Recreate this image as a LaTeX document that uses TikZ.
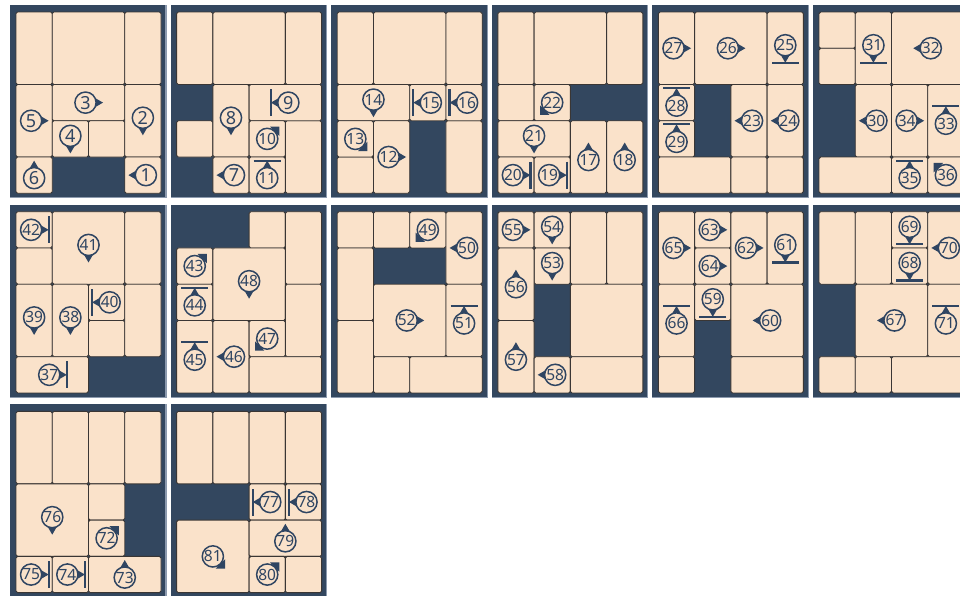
\documentclass[tikz,border=0pt]{standalone}
\usepackage{fontspec}
\setmainfont{Noto Sans}
\definecolor{navy}{RGB}{51,71,95}
\definecolor{peach}{RGB}{250,226,202}
\definecolor{edgec}{RGB}{58,54,52}
\definecolor{rimc}{RGB}{140,154,174}
\definecolor{mkc}{RGB}{47,69,98}
\newcommand\cellsz{36.25}
\tikzset{
  piece/.style={draw=edgec,fill=peach,line width=0.9pt,rounded corners=1.6pt},
  mktext/.style={inner sep=0pt,text=mkc},
  panelbg/.style={fill=navy},
  rimline/.style={draw=rimc,line width=1.2pt}
}
\newcommand\setpanel[2]{%
  \pgfmathsetmacro\PX{10+160.6*#1}\pgfmathsetmacro\PY{5+199.7*#2}%
  \fill[panelbg] (\PX,\PY) rectangle ++(156,192.5);
  \draw[rimline] (\PX+156,\PY) -- (\PX+156,\PY+192.5) -- (\PX,\PY+192.5);
  \pgfmathsetmacro\IX{\PX+6}\pgfmathsetmacro\IY{\PY+7}}
\newcommand\pc[4]{\draw[piece] ({\IX+#1*\cellsz},{\IY+#2*\cellsz}) rectangle ++({#3*\cellsz},{#4*\cellsz});}
% c r w h angle type num ; type 0 = triangle, 1 = triangle+bar, 2 = diagonal corner
\newcommand\mk[7]{%
  \pgfmathsetmacro\mcx{\IX+(#1+#3/2)*\cellsz}\pgfmathsetmacro\mcy{\IY+(#2+#4/2)*\cellsz}%
  \begin{scope}[shift={(\mcx,\mcy)},rotate=#5]
    \ifnum#6=2
      \def\mo{0}%
      \fill[mkc] (17.2,0) -- (10.6,6.6) -- (10.6,-6.6) -- cycle;
    \else
      \def\mo{-3}%
      \fill[mkc] (\mo+17.5,0) -- (\mo+8,5.5) -- (\mo+8,-5.5) -- cycle;
    \fi
    \ifnum#6=1 \draw[mkc,line width=2.2pt] (\mo+17.5,-13.5) -- (\mo+17.5,13.5);\fi
    \draw[mkc,line width=1.5pt,fill=peach] (\mo,0) circle[radius=10.6];
    \node[mktext] (n#7) at (\mo,0) {\ifnum#7>9 \fontsize{15.5}{15.5}\selectfont\else\fontsize{18}{18}\selectfont\fi #7};
  \end{scope}}
\begin{document}
\begin{tikzpicture}[x=1pt,y=-1pt]
\useasboundingbox (0,0) rectangle (960,595);
\clip (0,0) rectangle (960,595);
\fill[white] (0,0) rectangle (960,595);
% ---------- P1
\setpanel{0}{0}
\pc{0}{0}{1}{2}\pc{1}{0}{2}{2}\pc{3}{0}{1}{2}
\pc{0}{2}{1}{2}\pc{1}{2}{2}{1}\pc{1}{3}{1}{1}\pc{2}{3}{1}{1}\pc{3}{2}{1}{2}\pc{0}{4}{1}{1}\pc{3}{4}{1}{1}
\mk{0}{2}{1}{2}{0}{0}{5}
\mk{1}{2}{2}{1}{0}{0}{3}
\mk{1}{3}{1}{1}{270}{0}{4}
\mk{3}{2}{1}{2}{270}{0}{2}
\mk{0}{4}{1}{1}{90}{0}{6}
\mk{3}{4}{1}{1}{180}{0}{1}
% ---------- P2
\setpanel{1}{0}
\pc{0}{0}{1}{2}\pc{1}{0}{2}{2}\pc{3}{0}{1}{2}\pc{0}{3}{1}{1}\pc{3}{3}{1}{2}
\pc{1}{2}{1}{2}\pc{2}{2}{2}{1}\pc{2}{3}{1}{1}\pc{1}{4}{1}{1}\pc{2}{4}{1}{1}
\mk{1}{2}{1}{2}{270}{0}{8}
\mk{2}{2}{2}{1}{180}{1}{9}
\mk{2}{3}{1}{1}{45}{2}{10}
\mk{1}{4}{1}{1}{180}{0}{7}
\mk{2}{4}{1}{1}{90}{1}{11}
% ---------- P3
\setpanel{2}{0}
\pc{0}{0}{1}{2}\pc{1}{0}{2}{2}\pc{3}{0}{1}{2}\pc{0}{4}{1}{1}\pc{3}{3}{1}{2}
\pc{0}{2}{2}{1}\pc{2}{2}{1}{1}\pc{3}{2}{1}{1}\pc{0}{3}{1}{1}\pc{1}{3}{1}{2}
\mk{0}{2}{2}{1}{270}{0}{14}
\mk{2}{2}{1}{1}{180}{1}{15}
\mk{3}{2}{1}{1}{180}{1}{16}
\mk{0}{3}{1}{1}{315}{2}{13}
\mk{1}{3}{1}{2}{0}{0}{12}
% ---------- P4
\setpanel{3}{0}
\pc{0}{0}{1}{2}\pc{1}{0}{2}{2}\pc{3}{0}{1}{2}\pc{0}{2}{1}{1}
\pc{1}{2}{1}{1}\pc{0}{3}{2}{1}\pc{0}{4}{1}{1}\pc{1}{4}{1}{1}\pc{2}{3}{1}{2}\pc{3}{3}{1}{2}
\mk{1}{2}{1}{1}{225}{2}{22}
\mk{0}{3}{2}{1}{270}{0}{21}
\mk{0}{4}{1}{1}{0}{1}{20}
\mk{1}{4}{1}{1}{0}{1}{19}
\mk{2}{3}{1}{2}{90}{0}{17}
\mk{3}{3}{1}{2}{90}{0}{18}
% ---------- P5
\setpanel{4}{0}
\pc{0}{0}{1}{2}\pc{1}{0}{2}{2}\pc{3}{0}{1}{2}\pc{0}{2}{1}{1}\pc{0}{3}{1}{1}
\pc{2}{2}{1}{2}\pc{3}{2}{1}{2}\pc{0}{4}{2}{1}\pc{2}{4}{1}{1}\pc{3}{4}{1}{1}
\mk{0}{0}{1}{2}{0}{0}{27}
\mk{1}{0}{2}{2}{0}{0}{26}
\mk{3}{0}{1}{2}{270}{1}{25}
\mk{0}{2}{1}{1}{90}{1}{28}
\mk{0}{3}{1}{1}{90}{1}{29}
\mk{2}{2}{1}{2}{180}{0}{23}
\mk{3}{2}{1}{2}{180}{0}{24}
% ---------- P6
\setpanel{5}{0}
\pc{0}{0}{1}{1}\pc{0}{1}{1}{1}\pc{1}{0}{1}{2}\pc{2}{0}{2}{2}
\pc{1}{2}{1}{2}\pc{2}{2}{1}{2}\pc{3}{2}{1}{2}\pc{0}{4}{2}{1}\pc{2}{4}{1}{1}\pc{3}{4}{1}{1}
\mk{1}{0}{1}{2}{270}{1}{31}
\mk{2}{0}{2}{2}{180}{0}{32}
\mk{1}{2}{1}{2}{180}{0}{30}
\mk{2}{2}{1}{2}{0}{0}{34}
\mk{3}{2}{1}{2}{90}{1}{33}
\mk{2}{4}{1}{1}{90}{1}{35}
\mk{3}{4}{1}{1}{135}{2}{36}
% ---------- P7
\setpanel{0}{1}
\pc{0}{0}{1}{1}\pc{0}{1}{1}{1}\pc{1}{0}{2}{2}\pc{3}{0}{1}{2}
\pc{0}{2}{1}{2}\pc{1}{2}{1}{2}\pc{2}{2}{1}{1}\pc{2}{3}{1}{1}\pc{3}{2}{1}{2}\pc{0}{4}{2}{1}
\mk{0}{0}{1}{1}{0}{1}{42}
\mk{1}{0}{2}{2}{270}{0}{41}
\mk{0}{2}{1}{2}{270}{0}{39}
\mk{1}{2}{1}{2}{270}{0}{38}
\mk{2}{2}{1}{1}{180}{1}{40}
\mk{0}{4}{2}{1}{0}{1}{37}
% ---------- P8
\setpanel{1}{1}
\pc{2}{0}{1}{1}\pc{3}{0}{1}{2}\pc{0}{1}{1}{1}\pc{0}{2}{1}{1}\pc{1}{1}{2}{2}
\pc{3}{2}{1}{2}\pc{0}{3}{1}{2}\pc{1}{3}{1}{2}\pc{2}{3}{1}{1}\pc{2}{4}{2}{1}
\mk{0}{1}{1}{1}{45}{2}{43}
\mk{0}{2}{1}{1}{90}{1}{44}
\mk{1}{1}{2}{2}{270}{0}{48}
\mk{0}{3}{1}{2}{90}{1}{45}
\mk{1}{3}{1}{2}{180}{0}{46}
\mk{2}{3}{1}{1}{225}{2}{47}
% ---------- P9
\setpanel{2}{1}
\pc{0}{0}{1}{1}\pc{1}{0}{1}{1}\pc{2}{0}{1}{1}\pc{3}{0}{1}{2}\pc{0}{1}{1}{2}
\pc{1}{2}{2}{2}\pc{3}{2}{1}{2}\pc{0}{3}{1}{2}\pc{1}{4}{1}{1}\pc{2}{4}{2}{1}
\mk{2}{0}{1}{1}{225}{2}{49}
\mk{3}{0}{1}{2}{180}{0}{50}
\mk{1}{2}{2}{2}{0}{0}{52}
\mk{3}{2}{1}{2}{90}{1}{51}
% ---------- P10
\setpanel{3}{1}
\pc{0}{0}{1}{1}\pc{1}{0}{1}{1}\pc{1}{1}{1}{1}\pc{2}{0}{1}{2}\pc{3}{0}{1}{2}
\pc{0}{1}{1}{2}\pc{0}{3}{1}{2}\pc{2}{2}{2}{2}\pc{1}{4}{1}{1}\pc{2}{4}{2}{1}
\mk{0}{0}{1}{1}{0}{0}{55}
\mk{1}{0}{1}{1}{270}{0}{54}
\mk{1}{1}{1}{1}{270}{0}{53}
\mk{0}{1}{1}{2}{90}{0}{56}
\mk{0}{3}{1}{2}{90}{0}{57}
\mk{1}{4}{1}{1}{180}{0}{58}
% ---------- P11
\setpanel{4}{1}
\pc{0}{0}{1}{2}\pc{1}{0}{1}{1}\pc{1}{1}{1}{1}\pc{2}{0}{1}{2}\pc{3}{0}{1}{2}
\pc{0}{2}{1}{2}\pc{1}{2}{1}{1}\pc{2}{2}{2}{2}\pc{0}{4}{1}{1}\pc{2}{4}{2}{1}
\mk{0}{0}{1}{2}{0}{0}{65}
\mk{1}{0}{1}{1}{0}{0}{63}
\mk{1}{1}{1}{1}{0}{0}{64}
\mk{2}{0}{1}{2}{0}{0}{62}
\mk{3}{0}{1}{2}{270}{1}{61}
\mk{0}{2}{1}{2}{90}{1}{66}
\mk{1}{2}{1}{1}{270}{1}{59}
\mk{2}{2}{2}{2}{180}{0}{60}
% ---------- P12
\setpanel{5}{1}
\pc{0}{0}{1}{2}\pc{1}{0}{1}{2}\pc{2}{0}{1}{1}\pc{2}{1}{1}{1}\pc{3}{0}{1}{2}
\pc{1}{2}{2}{2}\pc{3}{2}{1}{2}\pc{0}{4}{1}{1}\pc{1}{4}{1}{1}\pc{2}{4}{2}{1}
\mk{2}{0}{1}{1}{270}{1}{69}
\mk{2}{1}{1}{1}{270}{1}{68}
\mk{3}{0}{1}{2}{180}{0}{70}
\mk{1}{2}{2}{2}{180}{0}{67}
\mk{3}{2}{1}{2}{90}{1}{71}
% ---------- P13
\setpanel{0}{2}
\pc{0}{0}{1}{2}\pc{1}{0}{1}{2}\pc{2}{0}{1}{2}\pc{3}{0}{1}{2}
\pc{0}{2}{2}{2}\pc{2}{2}{1}{1}\pc{2}{3}{1}{1}\pc{0}{4}{1}{1}\pc{1}{4}{1}{1}\pc{2}{4}{2}{1}
\mk{0}{2}{2}{2}{270}{0}{76}
\mk{2}{3}{1}{1}{45}{2}{72}
\mk{0}{4}{1}{1}{0}{1}{75}
\mk{1}{4}{1}{1}{0}{1}{74}
\mk{2}{4}{2}{1}{90}{0}{73}
% ---------- P14
\setpanel{1}{2}
\pc{0}{0}{1}{2}\pc{1}{0}{1}{2}\pc{2}{0}{1}{2}\pc{3}{0}{1}{2}
\pc{2}{2}{1}{1}\pc{3}{2}{1}{1}\pc{0}{3}{2}{2}\pc{2}{3}{2}{1}\pc{2}{4}{1}{1}\pc{3}{4}{1}{1}
\mk{2}{2}{1}{1}{180}{1}{77}
\mk{3}{2}{1}{1}{180}{1}{78}
\mk{0}{3}{2}{2}{315}{2}{81}
\mk{2}{3}{2}{1}{90}{0}{79}
\mk{2}{4}{1}{1}{45}{2}{80}
\end{tikzpicture}
\end{document}
